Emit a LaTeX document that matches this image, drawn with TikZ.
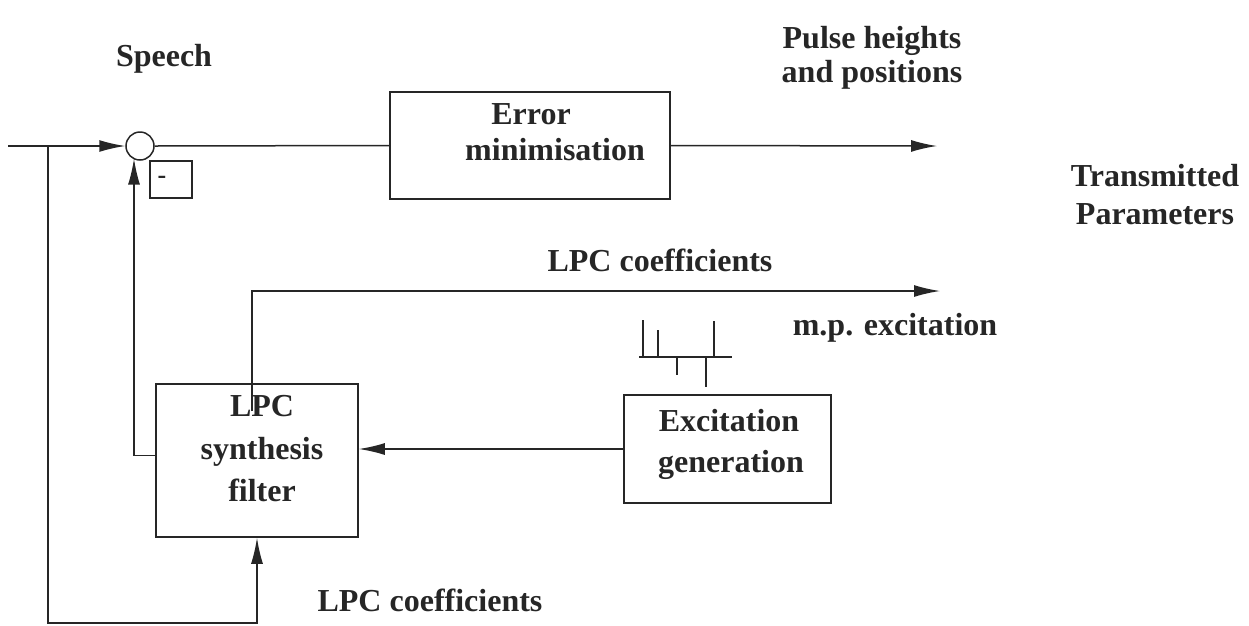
\documentclass[tikz,border=0pt]{standalone}
\usepackage{fontspec}
\setmainfont{Liberation Serif}
\usetikzlibrary{arrows.meta,calc}
\definecolor{ink}{HTML}{262626}
\tikzset{
  wire/.style={draw=ink, line width=1.5pt},
  arr/.style={wire, -{Latex[length=26pt,width=12pt]}},
  block/.style={draw=ink, line width=1.5pt, rectangle, inner sep=0pt},
  lbl/.style={text=ink, font=\fontsize{32}{34}\selectfont\bfseries, inner sep=0pt, anchor=base},
  pulse/.style={draw=ink, line width=1.2pt},
}
\begin{document}
\begin{tikzpicture}[x=1pt,y=-1pt]
\useasboundingbox (0,0) rectangle (1249,625);

% blocks
\node[block, minimum width=280pt, minimum height=107pt] (err) at (530,145.5) {};
\node[block, minimum width=202pt, minimum height=153pt] (syn) at (257,460.5) {};
\node[block, minimum width=207pt, minimum height=108pt] (exc) at (727.5,449) {};
\node[circle, draw=ink, line width=1.5pt, minimum size=28pt, inner sep=0pt] (sum) at (140,146) {};
\node[block, minimum width=42pt, minimum height=37pt] (neg) at (171,179.5) {};
\node[text=ink, font=\fontsize{26}{26}\selectfont\bfseries, inner sep=0pt] (negsign) at (162,180) {-};

% block texts
\node[lbl] (errA) at (531,124) {Error};
\node[lbl] (errB) at (555,160) {minimisation};
\node[lbl] (synA) at (262,416) {LPC};
\node[lbl] (synB) at (262,459) {synthesis};
\node[lbl] (synC) at (262,501) {filter};
\node[lbl] (excA) at (729,431) {Excitation};
\node[lbl] (excB) at (731,472) {generation};

% free labels
\node[lbl] (speech) at (164,66) {Speech};
\node[lbl] (pulseA) at (872,48) {Pulse heights};
\node[lbl] (pulseB) at (872,82) {and positions};
\node[lbl] (txA) at (1155,186) {Transmitted};
\node[lbl] (txB) at (1155,224) {Parameters};
\node[lbl] (lpcTop) at (660,271) {LPC coefficients};
\node[lbl] (mpexc) at (895,335) {m.p. excitation};
\node[lbl] (lpcBot) at (430,611) {LPC coefficients};

% connector ends
\coordinate (in) at (8,146);
\coordinate (tap) at (48,146);
\coordinate (corner) at (48,623);
\coordinate (pulseout) at (937,146);
\coordinate (lpcout) at (940,291);

% signal path
\draw[arr] (in) -- (sum.west);
\draw[wire] (sum.east) -- (err.west);
\draw[arr] (err.east) -- (pulseout);
\draw[arr] (tap) -- (corner) -| (syn.south);
\draw[arr] ($(syn.west)+(0,-5)$) -| ($(sum.center)+(-6,12.6)$);
\draw[arr] ($(syn.north)+(-5,28)$) |- (lpcout);
\draw[arr] (exc.west) -- (exc.west -| syn.east);

% multipulse excitation sketch
\draw[pulse] (639,357) -- (732,357);
\draw[pulse] (643,320) -- (643,357);
\draw[pulse] (658,330) -- (658,357);
\draw[pulse] (714,321) -- (714,357);
\draw[pulse] (677,357) -- (677,375);
\draw[pulse] (706,357) -- (706,387);
\end{tikzpicture}
\end{document}
